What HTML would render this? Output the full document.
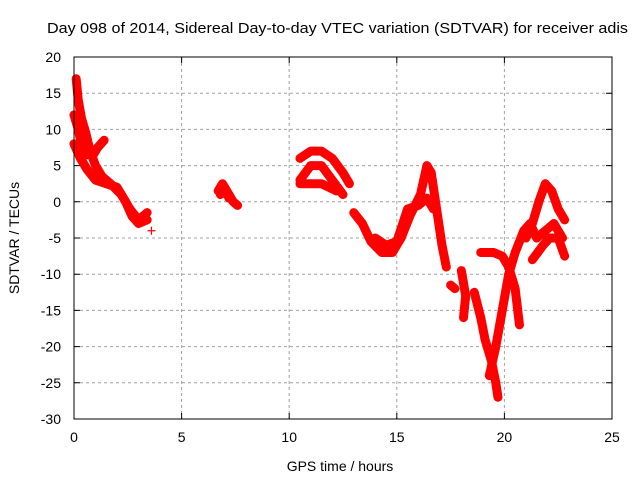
<!DOCTYPE html>
<html><head><meta charset="utf-8"><style>
body{margin:0;background:#fff}
svg{display:block;font-family:"Liberation Sans",sans-serif}
</style></head><body>
<svg id="chart" width="640" height="480" viewBox="0 0 640 480">
<text x="47" y="33" font-size="15" textLength="581" lengthAdjust="spacingAndGlyphs">Day 098 of 2014, Sidereal Day-to-day VTEC variation (SDTVAR) for receiver adis</text>
<text x="340" y="471" font-size="14" text-anchor="middle">GPS time / hours</text>
<text transform="translate(19,238) rotate(-90)" font-size="14" text-anchor="middle">SDTVAR / TECUs</text>
<g id="grid"></g><g id="ticks"></g><g id="series"></g>
<rect x="74" y="57" width="538" height="362" fill="none" stroke="#000" stroke-width="1"/>
</svg>
<script>
const xTicks=[0,5,10,15,20,25];
const yTicks=[20,15,10,5,0,-5,-10,-15,-20,-25,-30];
const s1=[[0.1,17],[0.2,14],[0.35,11.5],[0.55,9.5],[0.75,7],[1.0,5],[1.3,3.5],[1.7,2.5],[2.2,1],[2.6,-1],[3.0,-2.5],[3.4,-1.5]];
const s2=[[0.0,12],[0.2,10],[0.4,7],[0.6,6.5],[0.9,6.5],[1.1,7.5],[1.4,8.5]];
const s3=[[0.0,8],[0.3,6],[0.6,4.5],[1.0,3],[1.5,2.5],[2.0,2],[2.4,0],[2.7,-2],[3.0,-3],[3.4,-2.5]];
const s4=[[6.7,1.5],[6.9,2.5],[7.1,1.5],[7.4,0],[7.6,-0.5]];
const s4b=[[6.8,1],[7.0,2],[7.2,0.5]];
const s5=[[10.5,6],[11,7],[11.5,7],[12,6],[12.5,4],[12.8,2.5]];
const s6=[[10.5,3],[11,5],[11.5,5],[12,3],[12.5,1]];
const s7=[[10.5,2.5],[11,2.5],[11.5,2.5],[12.2,1.5]];
const s8=[[13,-1.5],[13.4,-3],[13.8,-5.5],[14.3,-7],[14.8,-7],[15.2,-5],[15.6,-2],[16.1,1],[16.4,5],[16.6,4],[16.9,-2],[17.1,-6],[17.3,-9]];
const s9=[[14,-5],[14.5,-6],[15,-5.5],[15.5,-1],[16,-0.5],[16.4,0.5],[16.7,-1]];
const s10=[[17.5,-11.5],[17.7,-12]];
const s11=[[18,-9.5],[18.2,-13],[18.1,-16]];
const s12=[[18.6,-12.5],[18.9,-16],[19.1,-19],[19.4,-22],[19.6,-25],[19.7,-27]];
const s13=[[19.3,-24],[19.6,-20],[19.9,-15],[20.2,-10],[20.5,-7],[20.9,-4],[21.2,-3],[21.5,-5],[21.9,-4],[22.3,-3],[22.7,-5]];
const s14=[[18.9,-7],[19.5,-7],[19.9,-7.5],[20.2,-9],[20.5,-12],[20.7,-17]];
const s15=[[21,-5],[21.3,-3],[21.6,0],[21.9,2.5],[22.2,1.5],[22.5,-1],[22.8,-2.5]];
const s16=[[21.3,-8],[21.8,-6],[22.1,-5],[22.5,-5],[22.8,-7.5]];
const s17=[[3.6,-4]];
const allSeries=[s1,s2,s3,s4,s4b,s5,s6,s7,s8,s9,s10,s11,s12,s13,s14,s15,s16,s17];
const NS="http://www.w3.org/2000/svg";
const X=t=>74+t*(538/25), Y=v=>57+(20-v)*(362/50);
const grid=document.getElementById('grid'),ticks=document.getElementById('ticks'),ser=document.getElementById('series');
function mk(tag,at,parent){const e=document.createElementNS(NS,tag);for(const k in at)e.setAttribute(k,at[k]);parent.appendChild(e);return e;}
xTicks.forEach(t=>{const x=X(t);
 if(t>0&&t<25){const g=mk('line',{x1:x,x2:x,y1:57,y2:419,stroke:'#a0a0a0','stroke-dasharray':'3,3'},grid);
 
 }
 const tk=mk('path',{d:`M${x} 419v-6M${x} 57v6`,stroke:'#000'},ticks);
 
 
 const l=mk('text',{x:x,y:442,'font-size':14,'text-anchor':'middle'},ticks);l.textContent=t;
 
 });
yTicks.forEach(v=>{const y=Y(v);
 if(v<20&&v>-30){const g=mk('line',{x1:74,x2:612,y1:y,y2:y,stroke:'#a0a0a0','stroke-dasharray':'3,3'},grid);
 
 }
 const tk=mk('path',{d:`M74 ${y}h6M612 ${y}h-6`,stroke:'#000'},ticks);
 
 
 const l=mk('text',{x:61,y:y+5,'font-size':14,'text-anchor':'end'},ticks);l.textContent=v;
 
 });
allSeries.forEach((s,i)=>{
 const g=mk('g',{},ser);
 
 
 if(s.length>1){mk('polyline',{points:s.map(p=>X(p[0])+','+Y(p[1])).join(' '),fill:'none',stroke:'#f00','stroke-width':9,'stroke-linejoin':'round','stroke-linecap':'round'},g);}
 s.forEach(p=>{const m=mk('path',{d:`M${X(p[0])-4} ${Y(p[1])}h8M${X(p[0])} ${Y(p[1])-4}v8`,stroke:'#f00','stroke-width':1.2},g);
  
  });
});
</script>
</body></html>
